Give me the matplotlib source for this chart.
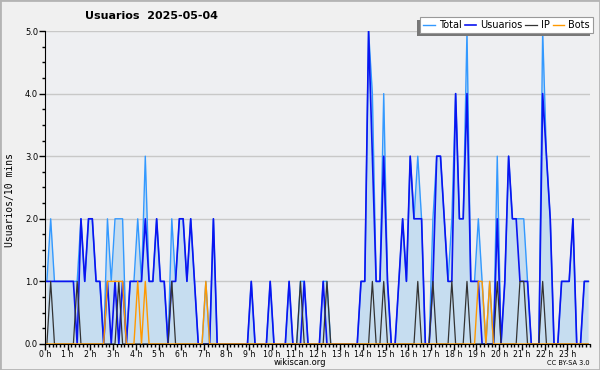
import numpy as np
import matplotlib
matplotlib.use('Agg')
import matplotlib.pyplot as plt
from matplotlib.patches import Rectangle
from matplotlib.transforms import IdentityTransform

# valores por intervalo de 10 minutos, una fila por hora
usuarios = [
    1, 1, 1, 1, 1, 1,
    1, 1, 0, 2, 1, 2,
    2, 1, 1, 0, 1, 0,
    1, 0, 1, 0, 1, 1,
    1, 1, 2, 1, 1, 2,
    1, 1, 0, 1, 1, 2,
    2, 1, 2, 1, 0, 0,
    0, 0, 2, 0, 0, 0,
    0, 0, 0, 0, 0, 0,
    1, 0, 0, 0, 0, 1,
    0, 0, 0, 0, 1, 0,
    0, 0, 1, 0, 0, 0,
    0, 1, 0, 0, 0, 0,
    0, 0, 0, 0, 0, 1,
    1, 5, 3, 1, 1, 3,
    1, 0, 0, 1, 2, 1,
    3, 2, 2, 2, 0, 0,
    1, 3, 3, 2, 1, 1,
    4, 2, 2, 4, 1, 1,
    1, 0, 0, 0, 0, 2,
    0, 1, 3, 2, 2, 1,
    1, 1, 0, 0, 0, 4,
    3, 2, 0, 0, 1, 1,
    1, 2, 0, 0, 1, 1,
]
ip = [
    0, 1, 0, 0, 0, 0,
    0, 0, 1, 0, 0, 0,
    0, 0, 0, 0, 0, 0,
    0, 1, 0, 0, 0, 0,
    0, 0, 0, 0, 0, 0,
    0, 0, 0, 1, 0, 0,
    0, 0, 0, 0, 0, 0,
    0, 0, 0, 0, 0, 0,
    0, 0, 0, 0, 0, 0,
    0, 0, 0, 0, 0, 0,
    0, 0, 0, 0, 0, 0,
    0, 1, 0, 0, 0, 0,
    0, 0, 1, 0, 0, 0,
    0, 0, 0, 0, 0, 0,
    0, 0, 1, 0, 0, 1,
    0, 0, 0, 0, 0, 0,
    0, 0, 1, 0, 0, 0,
    1, 0, 0, 0, 0, 1,
    0, 0, 0, 1, 0, 0,
    0, 0, 0, 0, 0, 1,
    0, 0, 0, 0, 0, 1,
    1, 0, 0, 0, 0, 1,
    0, 0, 0, 0, 0, 0,
    0, 0, 0, 0, 0, 0,
]
bots = [
    0, 0, 0, 0, 0, 0,
    0, 0, 0, 0, 0, 0,
    0, 0, 0, 0, 1, 1,
    1, 1, 1, 0, 0, 0,
    1, 0, 1, 0, 0, 0,
    0, 0, 0, 0, 0, 0,
    0, 0, 0, 0, 0, 0,
    1, 0, 0, 0, 0, 0,
    0, 0, 0, 0, 0, 0,
    0, 0, 0, 0, 0, 0,
    0, 0, 0, 0, 0, 0,
    0, 0, 0, 0, 0, 0,
    0, 0, 0, 0, 0, 0,
    0, 0, 0, 0, 0, 0,
    0, 0, 0, 0, 0, 0,
    0, 0, 0, 0, 0, 0,
    0, 0, 0, 0, 0, 0,
    0, 0, 0, 0, 0, 0,
    0, 0, 0, 0, 0, 0,
    1, 1, 0, 1, 0, 0,
    0, 0, 0, 0, 0, 0,
    0, 0, 0, 0, 0, 0,
    0, 0, 0, 0, 0, 0,
    0, 0, 0, 0, 0, 0,
]
total = [
    1, 2, 1, 1, 1, 1,
    1, 1, 1, 2, 1, 2,
    2, 1, 1, 0, 2, 1,
    2, 2, 2, 0, 1, 1,
    2, 1, 3, 1, 1, 2,
    1, 1, 0, 2, 1, 2,
    2, 1, 2, 1, 0, 0,
    1, 0, 2, 0, 0, 0,
    0, 0, 0, 0, 0, 0,
    1, 0, 0, 0, 0, 1,
    0, 0, 0, 0, 1, 0,
    0, 1, 1, 0, 0, 0,
    0, 1, 1, 0, 0, 0,
    0, 0, 0, 0, 0, 1,
    1, 5, 4, 1, 1, 4,
    1, 0, 0, 1, 2, 1,
    3, 2, 3, 2, 0, 0,
    2, 3, 3, 2, 1, 2,
    4, 2, 2, 5, 1, 1,
    2, 1, 0, 1, 0, 3,
    0, 1, 3, 2, 2, 2,
    2, 1, 0, 0, 0, 5,
    3, 2, 0, 0, 1, 1,
    1, 2, 0, 0, 1, 1,
]
hour_labels = ["{} h".format(h) for h in range(24)]
y_labels = ["0.0", "1.0", "2.0", "3.0", "4.0", "5.0"]

x = (np.arange(len(total)) + 0.5) / 6.0

fig = plt.figure(figsize=(6, 3.7), dpi=100, facecolor='#f0f0f0')
ax = fig.add_axes([0.075, 0.0703, 0.9083, 0.8459])
ax.set_facecolor('#eeeff2')

ax.fill_between(x, 0, total, color='#c6ddf0', lw=0, zorder=1)
ax.plot(x, total, color='#3399ff', lw=1, label='Total', zorder=2)
ax.plot(x, usuarios, color='#0a14f0', lw=1.2, label='Usuarios', zorder=3)
ax.plot(x, ip, color='#333333', lw=0.9, label='IP', zorder=4)
ax.plot(x, bots, color='#ff9900', lw=1, label='Bots', zorder=4)

ax.set_xlim(0, 24)
ax.set_ylim(0, 5)
ax.set_xticks(range(24))
ax.set_xticklabels(hour_labels)
ax.set_xticks(np.arange(0, 24.01, 1 / 6.0), minor=True)
ax.set_yticks(range(6))
ax.set_yticklabels(y_labels)
ax.set_yticks(np.arange(0, 5.01, 0.25), minor=True)
ax.tick_params(axis='both', which='major', length=4, width=1, pad=1)
ax.tick_params(axis='x', which='major', labelsize=5.6, pad=0.5)
ax.tick_params(axis='y', which='major', labelsize=6)
ax.tick_params(axis='both', which='minor', length=2.5, width=1)
ax.grid(axis='y', color='#c8c8c8', lw=1)
ax.set_axisbelow(True)
for s in ['top', 'right']:
    ax.spines[s].set_visible(False)
for s in ['left', 'bottom']:
    ax.spines[s].set_color('black')

fig.text(0.252, 0.957, "Usuarios  2025-05-04", fontsize=8, fontweight='bold',
         ha='center', va='center')
fig.text(0.017, 0.46, "Usuarios/10 mins", rotation=90, family='DejaVu Sans Mono',
         fontsize=7, ha='center', va='center')
fig.text(0.5, 0.02, "wikiscan.org", fontsize=6, ha='center', va='center')
fig.text(0.983, 0.02, "CC BY-SA 3.0", fontsize=4.8, ha='right', va='center')

leg = ax.legend(loc='upper right', bbox_to_anchor=(0.988, 0.954),
                bbox_transform=fig.transFigure, ncol=4, fontsize=7,
                fancybox=False, handlelength=1.2, handletextpad=0.4,
                columnspacing=0.3, borderpad=0.3, borderaxespad=0,
                framealpha=1, edgecolor='#999999')
leg.get_frame().set_linewidth(0.8)

# sombra del recuadro de la leyenda (desplazada abajo a la izquierda)
fig.canvas.draw()
bb = leg.get_window_extent()
shadow = Rectangle((bb.x0 - 3, bb.y0 - 3), bb.width, bb.height,
                   transform=IdentityTransform(), facecolor='#777777',
                   edgecolor='none', zorder=4.9, clip_on=False)
ax.add_artist(shadow)

fig.patches.append(Rectangle((0, 0), 1, 1, transform=fig.transFigure, fill=False,
                             edgecolor='#b4b4b4', lw=2))

fig.savefig('out.png', dpi=100, facecolor=fig.get_facecolor())
